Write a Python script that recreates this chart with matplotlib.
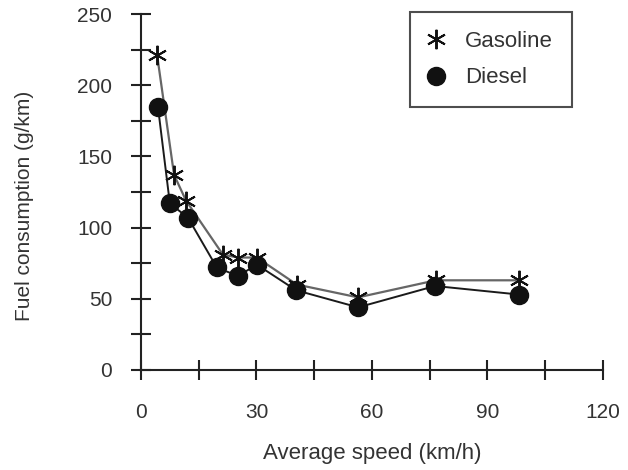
import matplotlib.pyplot as plt
from matplotlib.ticker import MultipleLocator

plt.rcParams['font.family'] = ['Liberation Sans', 'DejaVu Sans']

# speeds (km/h) and fuel consumption (g/km)
speed_gas = [4.2, 8.6, 11.7, 21.3, 25.2, 30.1, 40.5, 56.4, 76.6, 98.2]
fuel_gas = [221, 137, 119, 81, 79, 79, 60, 51, 63, 63]
speed_diesel = [4.4, 7.5, 12.2, 19.7, 25.2, 30.1, 40.3, 56.4, 76.4, 98.2]
fuel_diesel = [185, 117, 107, 72, 66, 74, 56, 44, 59, 53]

fig = plt.figure(figsize=(6.28, 4.70), dpi=100)
ax = fig.add_axes([0.2245, 0.2128, 0.7355, 0.7572])

ax.plot(speed_gas, fuel_gas, color='#666666', lw=1.6, marker=(6, 2, 0),
        markersize=14, markeredgewidth=1.4, markeredgecolor='#111111',
        label='Gasoline')
ax.plot(speed_diesel, fuel_diesel, color='#1a1a1a', lw=1.4, marker='o',
        markersize=13, markerfacecolor='#111111', markeredgecolor='#111111',
        label='Diesel')

ax.set_xlim(0, 120)
ax.set_ylim(0, 250)
ax.xaxis.set_major_locator(MultipleLocator(30))
ax.xaxis.set_minor_locator(MultipleLocator(15))
ax.yaxis.set_major_locator(MultipleLocator(50))
ax.yaxis.set_minor_locator(MultipleLocator(25))

for s in ['top', 'right']:
    ax.spines[s].set_visible(False)
for s in ['left', 'bottom']:
    ax.spines[s].set_linewidth(1.5)
    ax.spines[s].set_color('#222222')

ax.tick_params(which='both', direction='inout', length=14.4, width=1.5,
               color='#222222', labelsize=15, labelcolor='#333333')
ax.tick_params(axis='x', pad=16.5)
ax.tick_params(axis='y', pad=13.5)

ax.set_xlabel('Average speed (km/h)', fontsize=16, color='#333333')
ax.set_ylabel('Fuel consumption (g/km)', fontsize=15, color='#333333')
ax.xaxis.set_label_coords(0.5, -0.205)
ax.yaxis.set_label_coords(-0.232, 0.46)

leg = ax.legend(loc='upper right', bbox_to_anchor=(0.933, 1.006), fancybox=False,
                edgecolor='#222222', fontsize=16, handlelength=0.65,
                handletextpad=1.0, borderpad=0.85, labelspacing=0.7,
                borderaxespad=0)
leg.get_frame().set_linewidth(1.5)
for h in leg.get_lines():
    h.set_linestyle('none')
for t in leg.get_texts():
    t.set_color('#333333')

fig.savefig('out.png', dpi=100)
